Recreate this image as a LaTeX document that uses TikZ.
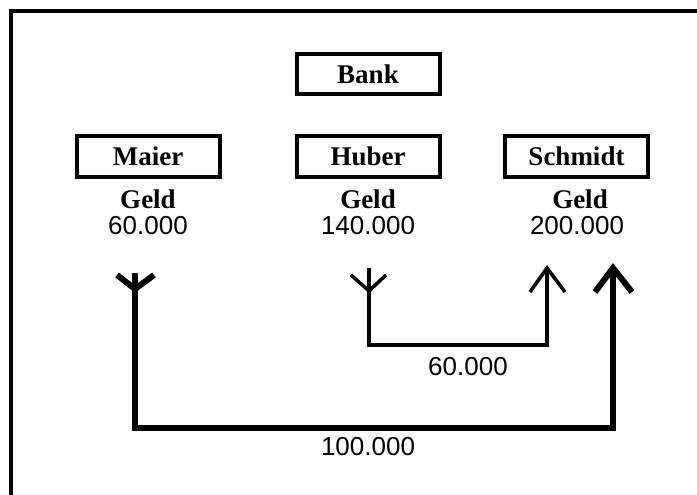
\documentclass[tikz,border=0pt]{standalone}
\usepackage{fontspec}
\setmainfont{Liberation Serif}
\newfontfamily\numfont{Liberation Sans}
\begin{document}
\begin{tikzpicture}[x=1pt,y=-1pt,
  box/.style={draw, line width=4pt, minimum width=143pt, minimum height=40pt, inner sep=0pt,
    text height=18pt, text depth=0pt, font=\fontsize{27}{30}\selectfont\bfseries},
  lbl/.style={inner sep=0pt, font=\fontsize{27}{30}\selectfont\bfseries},
  num/.style={inner sep=0pt, font=\numfont\fontsize{26}{30}\selectfont},
  heavyline/.style={line width=6pt},
  lightline/.style={line width=3.5pt}
]
\useasboundingbox (0,0) rectangle (697,495);
\draw[line width=4pt] (11,495) -- (11,11) -- (697,11);

\node[box] (bank) at (368,74.5) {Bank};
\node[box] (maier) at (148,156.5) {Maier};
\node[box] (huber) at (368,156.5) {Huber};
\node[box] (schmidt) at (576.5,156.5) {Schmidt};

\node[lbl] (mg) at (148,199) {Geld};
\node[num] (mn) at (148,226) {60.000};
\node[lbl] (hg) at (368,199) {Geld};
\node[num] (hn) at (368,226) {140.000};
\node[lbl] (sg) at (580,199) {Geld};
\node[num] (sn) at (577,226) {200.000};

% Maier -> Schmidt (100.000)
\coordinate (mt) at (135,273);
\coordinate (mj) at (135,289);
\coordinate (mwl) at (117,275);
\coordinate (mwr) at (154,275);
\coordinate (mc) at (135,428);
\coordinate (st) at (613,268);
\coordinate (swl) at (595,292);
\coordinate (swr) at (632,292);
\draw[heavyline] (mt) -- (mc) -| (st);
\draw[heavyline] (mwl) -- (mj) -- (mwr);
\draw[heavyline] (swl) -- (st) -- (swr);

% Huber -> Schmidt (60.000)
\coordinate (ht) at (369,268);
\coordinate (hj) at (369,291);
\coordinate (hwl) at (351,275);
\coordinate (hwr) at (386,275);
\coordinate (hc) at (369,345);
\coordinate (it) at (547,268);
\coordinate (iwl) at (530,292);
\coordinate (iwr) at (565,292);
\draw[lightline] (ht) -- (hc) -| (it);
\draw[lightline] (hwl) -- (hj) -- (hwr);
\draw[lightline] (iwl) -- (it) -- (iwr);

\node[num] (l60) at (468,367) {60.000};
\node[num] (l100) at (368,447) {100.000};
\end{tikzpicture}
\end{document}
